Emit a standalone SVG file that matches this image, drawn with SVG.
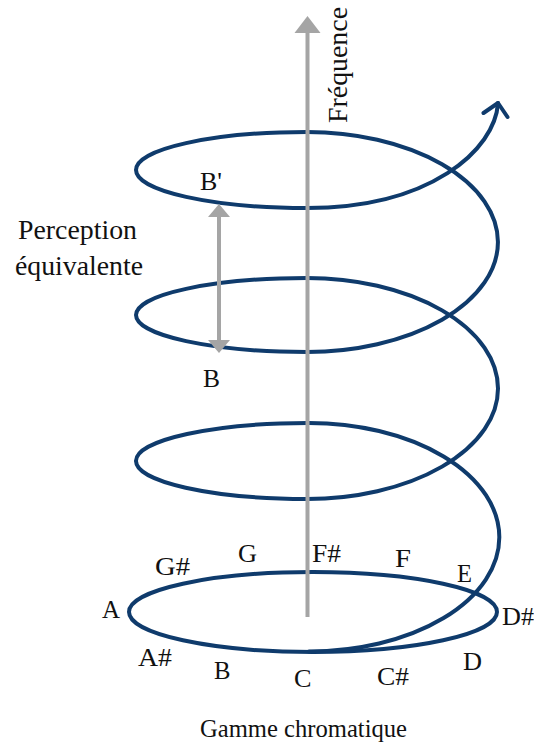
<svg xmlns="http://www.w3.org/2000/svg" width="534" height="746" viewBox="0 0 534 746">
<style>
.helix{fill:none;stroke:#0f3b6c;stroke-width:4;stroke-linecap:round;stroke-linejoin:round}
.axis{fill:none;stroke:#a5a5a5;stroke-width:4}
.head{fill:#a5a5a5;stroke:none}
.t{font-family:'Liberation Serif','DejaVu Serif','Noto Serif','Times New Roman',serif;fill:#111;font-size:26px}
</style>
<rect width="534" height="746" fill="#fff"/>
<g id="connectors">
<g id="helix">
<ellipse class="helix" cx="313" cy="612" rx="184" ry="40"/>
<path class="helix" d="M309 651.5 A190 114 0 0 0 309 423 A172 38 0 0 0 307 499 A191 110.5 0 0 0 307 278 A171 37 0 0 0 307 352 A191 110 0 0 0 307 132 A171 38 0 0 0 307 208 C430 208 495 150 498 103"/>
<polyline class="helix" points="483.5,113 498,103 507.5,117"/>
</g>
<g id="frequency-axis">
<line class="axis" x1="307.5" y1="617" x2="307.5" y2="31"/>
<polygon class="head" points="307.5,16 294.5,33 320.5,33"/>
</g>
<g id="octave-arrow">
<line class="axis" x1="219" y1="215" x2="219" y2="342"/>
<polygon class="head" points="219,204 208,217 230,217"/>
<polygon class="head" points="219,353 208,340 230,340"/>
</g>
</g>
<g id="label-frequence"><text class="t" style="font-size:28px" transform="translate(347,123) rotate(-90)" textLength="116" lengthAdjust="spacingAndGlyphs">Fréquence</text></g>
<g id="label-perception"><text class="t" style="font-size:27px" x="18" y="239" textLength="119" lengthAdjust="spacingAndGlyphs">Perception</text><text class="t" style="font-size:27px" x="15" y="275" textLength="128" lengthAdjust="spacingAndGlyphs">équivalente</text></g>
<g id="label-gamme"><text class="t" style="font-size:25px" x="200" y="737" textLength="207" lengthAdjust="spacingAndGlyphs">Gamme chromatique</text></g>
<g id="note-Bprime"><text class="t" x="200" y="190" textLength="22" lengthAdjust="spacingAndGlyphs">B'</text></g>
<g id="note-B-upper"><text class="t" x="203" y="387" textLength="17" lengthAdjust="spacingAndGlyphs">B</text></g>
<g id="note-Gs"><text class="t" x="155" y="575" textLength="35" lengthAdjust="spacingAndGlyphs">G#</text></g>
<g id="note-G"><text class="t" x="238" y="562" textLength="19" lengthAdjust="spacingAndGlyphs">G</text></g>
<g id="note-Fs"><text class="t" x="312" y="562" textLength="29" lengthAdjust="spacingAndGlyphs">F#</text></g>
<g id="note-F"><text class="t" x="395" y="567" textLength="16" lengthAdjust="spacingAndGlyphs">F</text></g>
<g id="note-E"><text class="t" x="457" y="582" textLength="15" lengthAdjust="spacingAndGlyphs">E</text></g>
<g id="note-A"><text class="t" x="102" y="618" textLength="18" lengthAdjust="spacingAndGlyphs">A</text></g>
<g id="note-Ds"><text class="t" x="502" y="625" textLength="32" lengthAdjust="spacingAndGlyphs">D#</text></g>
<g id="note-As"><text class="t" x="138" y="666" textLength="34" lengthAdjust="spacingAndGlyphs">A#</text></g>
<g id="note-B"><text class="t" x="214" y="679" textLength="16.5" lengthAdjust="spacingAndGlyphs">B</text></g>
<g id="note-C"><text class="t" x="294" y="687" textLength="17.5" lengthAdjust="spacingAndGlyphs">C</text></g>
<g id="note-Cs"><text class="t" x="377" y="685" textLength="32" lengthAdjust="spacingAndGlyphs">C#</text></g>
<g id="note-D"><text class="t" x="463" y="670" textLength="19" lengthAdjust="spacingAndGlyphs">D</text></g>
</svg>
